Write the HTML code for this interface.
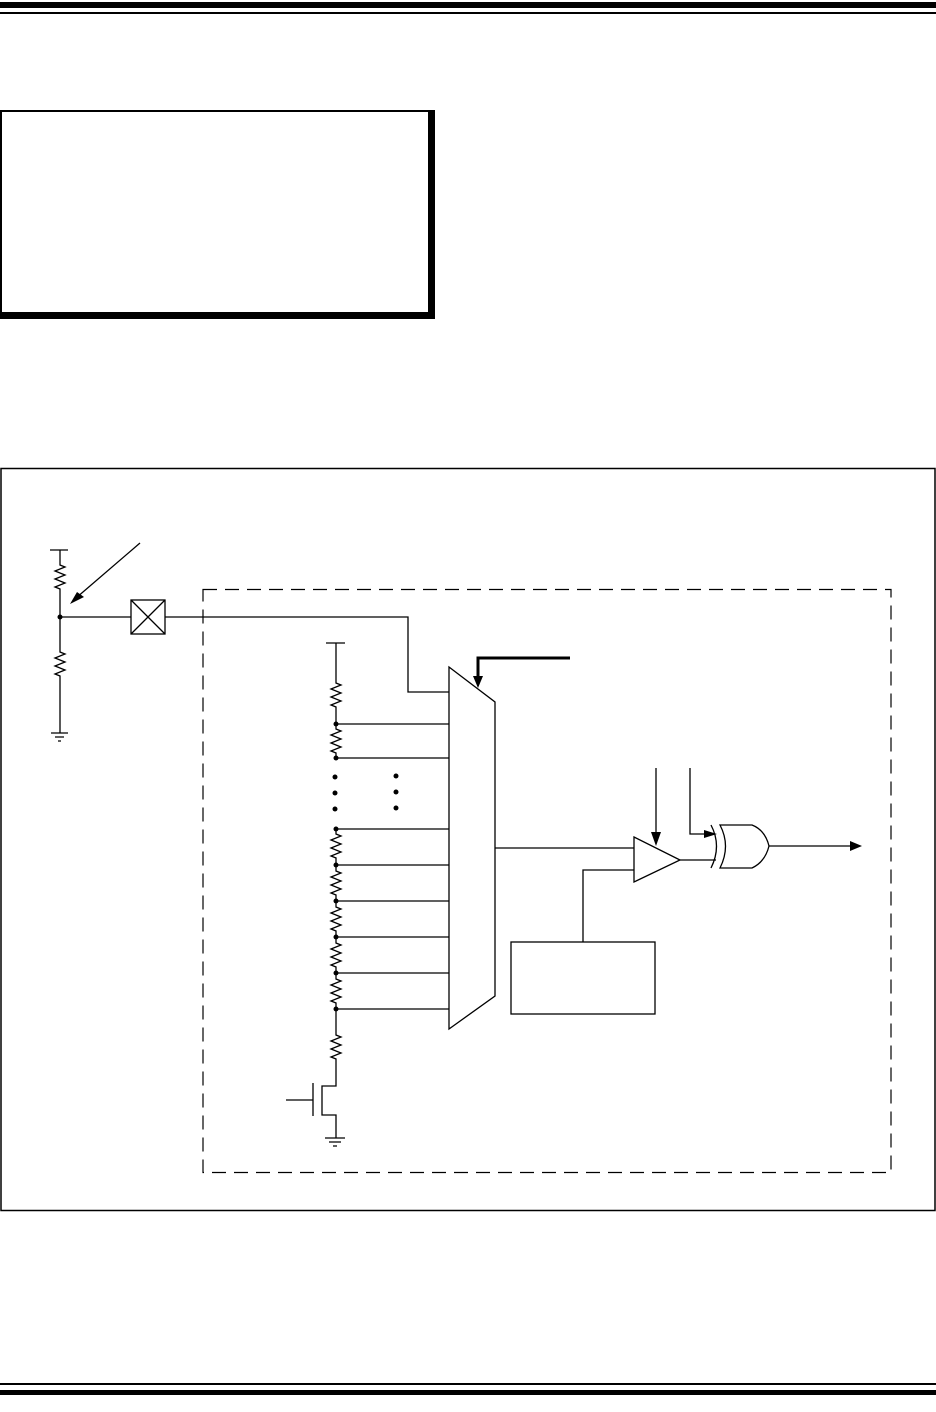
<!DOCTYPE html>
<html><head><meta charset="utf-8"><style>
html,body{margin:0;padding:0;background:#fff;}
svg{display:block;}
</style></head><body>
<svg width="936" height="1412" viewBox="0 0 936 1412" xmlns="http://www.w3.org/2000/svg">
<rect x="0" y="2" width="936" height="6" fill="#000"/>
<rect x="0" y="12" width="936" height="2" fill="#000"/>
<rect x="0" y="1383" width="936" height="2" fill="#000"/>
<rect x="0" y="1390" width="936" height="5" fill="#000"/>
<!-- top box -->
<rect x="1" y="111" width="428" height="202" fill="none" stroke="#000" stroke-width="2"/>
<rect x="429" y="110" width="6" height="209" fill="#000"/>
<rect x="0" y="313" width="435" height="6" fill="#000"/>
<!-- frame -->
<rect x="1" y="468.5" width="934" height="742" fill="none" stroke="#000" stroke-width="1.5"/>
<!-- dashed -->
<rect x="203" y="589.5" width="688" height="583" fill="none" stroke="#000" stroke-width="1.2" stroke-dasharray="14,8"/>
<g fill="none" stroke="#000" stroke-width="1.3">
<!-- left divider -->
<path d="M50 550H68M60 550V565 l5 2 l-10 4 l10 4 l-10 4 l10 4 l-10 4 l5 2 V617 V652 l5 2 l-10 4 l10 4 l-10 4 l10 4 l-10 4 l5 2 V733"/>
<path d="M51 733H68M55 737H64M58 741H61"/>
<path d="M140 543L76 598"/>
<path d="M60 617H131M165 617H408V692H449"/>
<rect x="131" y="600" width="34" height="34"/>
<path d="M131 600L165 634M165 600L131 634"/>
<!-- ladder -->
<path d="M326 643H345M336 643V683 l5 2 l-10 4 l10 4 l-10 4 l10 4 l-10 4 l5 2 V724 V729 l5 2 l-10 4 l10 4 l-10 4 l10 4 l-10 4 l5 2 V758"/>
<path d="M336 829V834 l5 2 l-10 4 l10 4 l-10 4 l10 4 l-10 4 l5 2 V865 V871 l5 2 l-10 4 l10 4 l-10 4 l10 4 l-10 4 l5 2 V901 V907 l5 2 l-10 4 l10 4 l-10 4 l10 4 l-10 4 l5 2 V937 V943 l5 2 l-10 4 l10 4 l-10 4 l10 4 l-10 4 l5 2 V973 V979 l5 2 l-10 4 l10 4 l-10 4 l10 4 l-10 4 l5 2 V1009 V1035 l5 2 l-10 4 l10 4 l-10 4 l10 4 l-10 4 l5 2 V1086H322V1115H336V1138"/>
<path d="M313 1083V1116M286 1100H313"/>
<path d="M325 1138H345M329 1142H341M333 1146H337"/>
<path d="M336 724H449M336 758H449M336 829H449M336 865H449M336 901H449M336 937H449M336 973H449M336 1009H449"/>
<!-- mux -->
<path d="M449 667L495 702V996L449 1029Z" fill="#fff"/>
<path d="M495 848H634"/>
<!-- comparator -->
<path d="M634 837L680 860L634 882Z" fill="#fff"/>
<path d="M634 870H583V942"/>
<rect x="511" y="942" width="144" height="72"/>
<path d="M656 768V838"/>
<path d="M690 768V834H706"/>
<path d="M680 860H716"/>
<!-- xor -->
<path d="M711 825Q722 846 711 868"/>
<path d="M720 825H752Q765 830 769 846Q765 862 752 868H720Q731 846 720 825Z"/>
<path d="M769 846H852"/>
</g>
<path d="M570 658H478V678" fill="none" stroke="#000" stroke-width="3"/>
<path d="M473 676L478 688L483 676Z" fill="#000"/>
<path d="M651 832L656 846L661 832Z" fill="#000"/>
<path d="M704 830L717 834L704 838Z" fill="#000"/>
<path d="M850 841L862 846L850 851Z" fill="#000"/>
<path d="M70 604L84 597L77 592Z" fill="#000"/>
<g fill="#000">
<circle cx="60" cy="617" r="2.5"/>
<circle cx="336" cy="724" r="2.5"/><circle cx="336" cy="758" r="2.5"/>
<circle cx="336" cy="829" r="2.5"/><circle cx="336" cy="865" r="2.5"/><circle cx="336" cy="901" r="2.5"/>
<circle cx="336" cy="937" r="2.5"/><circle cx="336" cy="973" r="2.5"/><circle cx="336" cy="1009" r="2.5"/>
<circle cx="335" cy="777" r="2.5"/><circle cx="335" cy="793" r="2.5"/><circle cx="335" cy="809" r="2.5"/>
<circle cx="396" cy="776" r="2.5"/><circle cx="396" cy="792" r="2.5"/><circle cx="396" cy="808" r="2.5"/>
</g>
</svg>
</body></html>
